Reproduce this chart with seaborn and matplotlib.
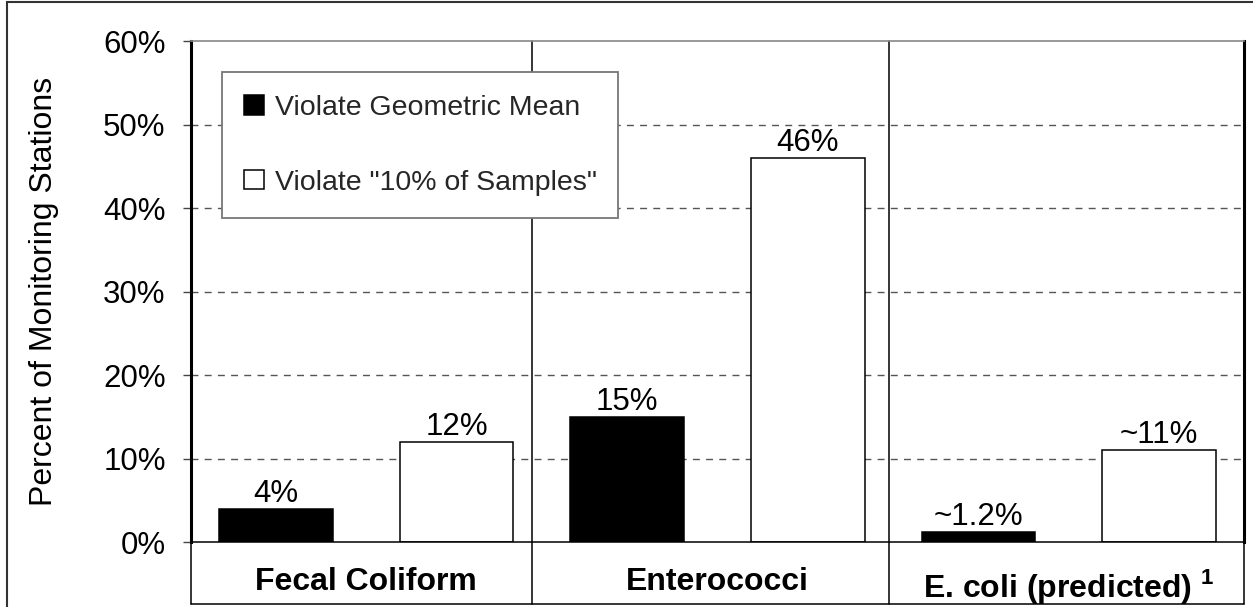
import matplotlib
matplotlib.use("Agg")
import matplotlib.pyplot as plt
from matplotlib.patches import Patch, Rectangle
from matplotlib.ticker import FuncFormatter
import pandas as pd
import seaborn as sns

# Bacteria indicator and percent of monitoring stations in violation
categories = ["Fecal Coliform", "Enterococci", "E. coli (predicted) $^{\\mathbf{1}}$"]
series_names = ["Violate Geometric Mean", "Violate \"10% of Samples\""]
geo_mean = [4, 15, 1.2]
ten_pct = [12, 46, 11]
approximate = [False, False, True]
y_ticks = [0, 10, 20, 30, 40, 50, 60]

df = pd.DataFrame({
    "category": categories * 2,
    "series": [series_names[0]] * 3 + [series_names[1]] * 3,
    "value": geo_mean + ten_pct,
})

sns.set_theme(style="white")
plt.rcParams["font.family"] = ["Liberation Sans", "DejaVu Sans"]
plt.rcParams["mathtext.fontset"] = "custom"
plt.rcParams["mathtext.rm"] = "Liberation Sans"
plt.rcParams["mathtext.bf"] = "Liberation Sans:bold"

FS_TICK = 22.5
FS_CAT = 23
FS_YLAB = 23
FS_LEG = 20.5

fig = plt.figure(figsize=(12.53, 6.07), dpi=100)
ax = fig.add_axes([190.7 / 1253, (607 - 542.3) / 607, 1053.6 / 1253, 501.0 / 607])

sns.barplot(data=df, x="category", y="value", hue="series",
            palette=["black", "white"], edgecolor="black", linewidth=1.1,
            width=1.03, gap=0.373, legend=False, ax=ax)

ax.set_xlim(-0.5, 2.5)
ax.set_ylim(0, 60)
ax.set_yticks(y_ticks)
ax.yaxis.set_major_formatter(FuncFormatter(lambda v, _: f"{v:.0f}%"))

# dashed horizontal gridlines behind the bars (not at the frame edges)
ax.grid(False)
for t in y_ticks[1:-1]:
    ax.axhline(t, color="#555555", linewidth=1.0, linestyle=(0, (5, 4.5)), zorder=0.5)

# value labels above each bar
for cont, vals in zip(ax.containers, [geo_mean, ten_pct]):
    labels = [("~" if a else "") + f"{v:g}%" for v, a in zip(vals, approximate)]
    ax.bar_label(cont, labels=labels, padding=0, fontsize=FS_TICK, color="black")

ax.set_xlabel("")
ax.set_ylabel("Percent of Monitoring Stations", fontsize=FS_YLAB, color="black")
ax.yaxis.set_label_coords(-0.125, 0.5)

ax.tick_params(axis="x", length=0, pad=18, labelsize=FS_CAT, labelcolor="black")
for lbl in ax.get_xticklabels():
    lbl.set_fontweight("bold")
ax.tick_params(axis="y", length=6, width=1.0, color="#444444", pad=12,
               labelsize=FS_TICK, labelcolor="black", left=True)

# frame of the plotting area
ax.spines["left"].set_color("black")
ax.spines["left"].set_linewidth(2.2)
ax.spines["right"].set_color("black")
ax.spines["right"].set_linewidth(2.2)
ax.spines["top"].set_color("#888888")
ax.spines["top"].set_linewidth(1.2)
ax.spines["bottom"].set_color("black")
ax.spines["bottom"].set_linewidth(1.1)

# category band under the axis and the group dividers
trans = ax.get_xaxis_transform()
yb = -(604 - 542.3) / 501.0
line_kw = dict(color="black", linewidth=1.1, clip_on=False, transform=trans, zorder=2)
ax.plot([-0.5, -0.5], [0, yb], **line_kw)
ax.plot([2.5, 2.5], [0, yb], **line_kw)
ax.plot([-0.5, 2.5], [yb, yb], **line_kw)
for xd in (0.471, 1.489):
    ax.plot([xd, xd], [1, yb], **line_kw)

# legend
handles = [Patch(facecolor="black", edgecolor="black", linewidth=1.1),
           Patch(facecolor="white", edgecolor="black", linewidth=1.1)]
leg = ax.legend(handles, series_names, loc="upper left",
                bbox_to_anchor=(0.0294, 0.647, 0.3764, 0.291), mode="expand",
                borderaxespad=0, fontsize=FS_LEG, frameon=True, fancybox=False,
                framealpha=1, edgecolor="#777777", borderpad=0.8, labelspacing=1.7,
                handlelength=0.67, handleheight=0.67, handletextpad=0.4)
leg.get_frame().set_linewidth(1.3)
leg.set_zorder(5)

# outer border of the figure
fig.add_artist(Rectangle((7 / 1253, -0.05), 1.0, 1.05 - 2 / 607,
                         transform=fig.transFigure, fill=False,
                         edgecolor="#333333", linewidth=1.5))

fig.savefig("out.png", dpi=100, facecolor="white")
